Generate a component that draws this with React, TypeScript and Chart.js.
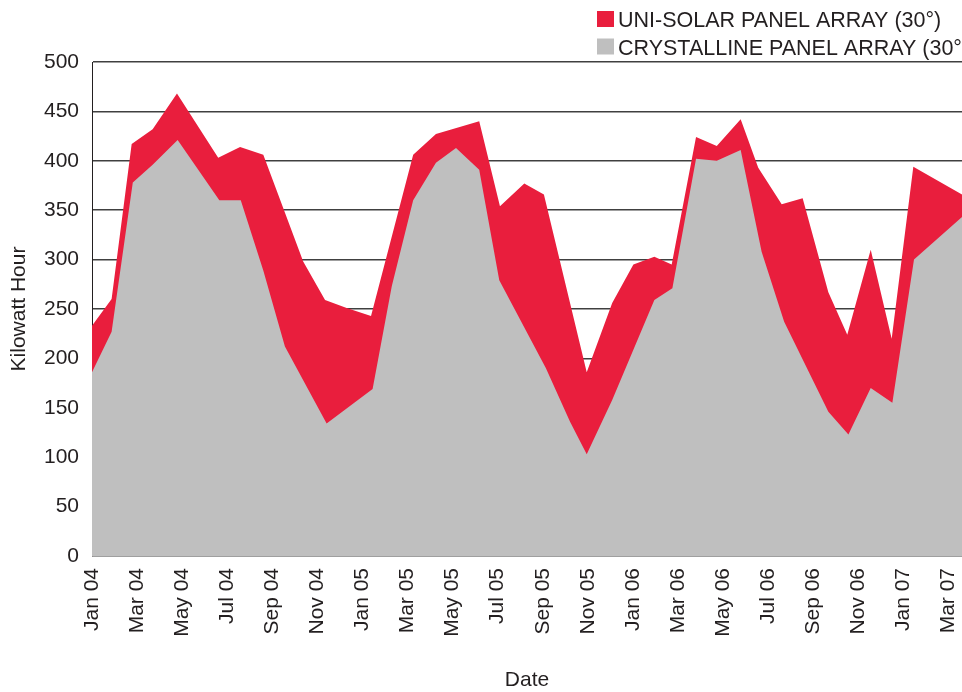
import { useEffect, useRef } from "react";
import { Chart, registerables } from "chart.js";

Chart.register(...registerables);

// Tick labels, one every two months starting Jan 2004 (x value = months since Jan 2004)
const tickLabels = [
  "Jan 04", "Mar 04", "May 04", "Jul 04", "Sep 04", "Nov 04",
  "Jan 05", "Mar 05", "May 05", "Jul 05", "Sep 05", "Nov 05",
  "Jan 06", "Mar 06", "May 06", "Jul 06", "Sep 06", "Nov 06",
  "Jan 07", "Mar 07",
];

const seriesNames = ["UNI-SOLAR PANEL ARRAY (30°)", "CRYSTALLINE PANEL ARRAY (30°)"];

// Reading dates, in months since Jan 2004
const uniSolarMonths = [
  0, 0.87, 1.76, 2.69, 3.77, 5.6, 6.57, 7.6, 9.37, 10.34, 11.3, 12.38,
  14.25, 15.26, 17.18, 18.1, 19.18, 20.05, 21.95, 23.08, 24.02, 24.95,
  25.72, 26.8, 27.72, 28.78, 29.56, 30.6, 31.53, 32.67, 33.51, 34.55,
  35.48, 36.44, 38.6,
];
const uniSolarKwh = [
  233, 260, 417, 432, 468, 403, 414, 406, 298, 259, 251, 243,
  406, 427, 440, 354, 377, 366, 186, 256, 295, 303,
  295, 424, 415, 442, 393, 356, 362, 267, 224, 310,
  220, 394, 366,
];

const crystallineMonths = [
  0, 0.87, 1.81, 2.69, 3.8, 5.65, 6.6, 7.6, 8.56, 10.41, 12.45, 13.3,
  14.25, 15.26, 16.15, 17.18, 18.07, 20.14, 21.21, 21.95, 23.08, 24.95,
  25.75, 26.8, 27.72, 28.78, 29.71, 30.71, 32.67, 33.56, 34.55, 35.51,
  36.47, 38.6,
];
const crystallineKwh = [
  186, 227, 378, 396, 421, 360, 360, 289, 212, 134, 169, 273,
  360, 398, 413, 391, 279, 190, 136, 103, 158, 259,
  271, 402, 400, 411, 308, 237, 146, 123, 170, 155,
  300, 343,
];

const xAxisMax = 38.6;

const RED = "#E91E3D";
const GRAY = "#BFBFBF";
const TEXT = "#231F20";
const FONT_FAMILY = "'Liberation Sans', Arial, sans-serif";

const cornerLegend = {
  id: "cornerLegend",
  afterDraw(chart: any) {
    const ctx = chart.ctx;
    ctx.save();
    ctx.font = `21.5px ${FONT_FAMILY}`;
    ctx.textBaseline = "alphabetic";
    ctx.textAlign = "left";
    const items = chart.data.datasets;
    items.forEach((ds: any, i: number) => {
      const top = 11 + i * 27.5;
      ctx.fillStyle = ds.backgroundColor;
      ctx.fillRect(597, top, 17, 16);
      ctx.fillStyle = TEXT;
      ctx.fillText(ds.label, 618, top + 16);
    });
    ctx.restore();
  },
};

export default function App() {
  const canvasRef = useRef<HTMLCanvasElement | null>(null);

  useEffect(() => {
    if (!canvasRef.current) return;
    const font = { family: FONT_FAMILY, size: 21 };
    const chart = new Chart(canvasRef.current, {
      type: "line",
      data: {
        datasets: [
          {
            label: seriesNames[0],
            data: uniSolarMonths.map((m, i) => ({ x: m, y: uniSolarKwh[i] })),
            backgroundColor: RED,
            borderColor: RED,
            borderWidth: 0,
            pointRadius: 0,
            fill: "origin",
            tension: 0,
            order: 1,
          },
          {
            label: seriesNames[1],
            data: crystallineMonths.map((m, i) => ({ x: m, y: crystallineKwh[i] })),
            backgroundColor: GRAY,
            borderColor: GRAY,
            borderWidth: 0,
            pointRadius: 0,
            fill: "origin",
            tension: 0,
            order: 0,
          },
        ],
      },
      options: {
        responsive: false,
        animation: false,
        devicePixelRatio: 1,
        layout: { padding: { top: 62, right: 0, left: 0, bottom: 0 } },
        plugins: {
          legend: { display: false },
          tooltip: { enabled: false },
        },
        scales: {
          x: {
            type: "linear",
            min: 0,
            max: xAxisMax,
            afterBuildTicks: (scale: any) => {
              scale.ticks = tickLabels.map((_, i) => ({ value: i * 2 }));
            },
            afterFit: (scale: any) => {
              scale.height = 136;
              scale.paddingRight = 0;
              scale.paddingLeft = 0;
            },
            ticks: {
              autoSkip: false,
              maxRotation: 90,
              minRotation: 90,
              padding: 12,
              font,
              color: TEXT,
              callback: (_v: any, index: number) => tickLabels[index],
            },
            grid: { display: false, drawTicks: false },
            border: { display: false },
            title: {
              display: true,
              text: "Date",
              font,
              color: TEXT,
              padding: { top: 0, bottom: -1 },
            },
          },
          y: {
            min: 0,
            max: 500,
            afterFit: (scale: any) => {
              scale.width = 92;
            },
            ticks: { stepSize: 50, padding: 13, font, color: TEXT },
            grid: { color: "#404040", lineWidth: 1.5, drawTicks: false },
            border: { display: true, color: TEXT, width: 1 },
            title: {
              display: true,
              text: "Kilowatt Hour",
              font,
              color: TEXT,
              padding: { top: 7, bottom: 0 },
            },
          },
        },
      },
      plugins: [cornerLegend],
    });
    return () => chart.destroy();
  }, []);

  return (
    <div style={{ position: "fixed", left: 0, top: 0, width: 962, height: 692, background: "#fff" }}>
      <canvas ref={canvasRef} width={962} height={692} style={{ display: "block" }} />
    </div>
  );
}
